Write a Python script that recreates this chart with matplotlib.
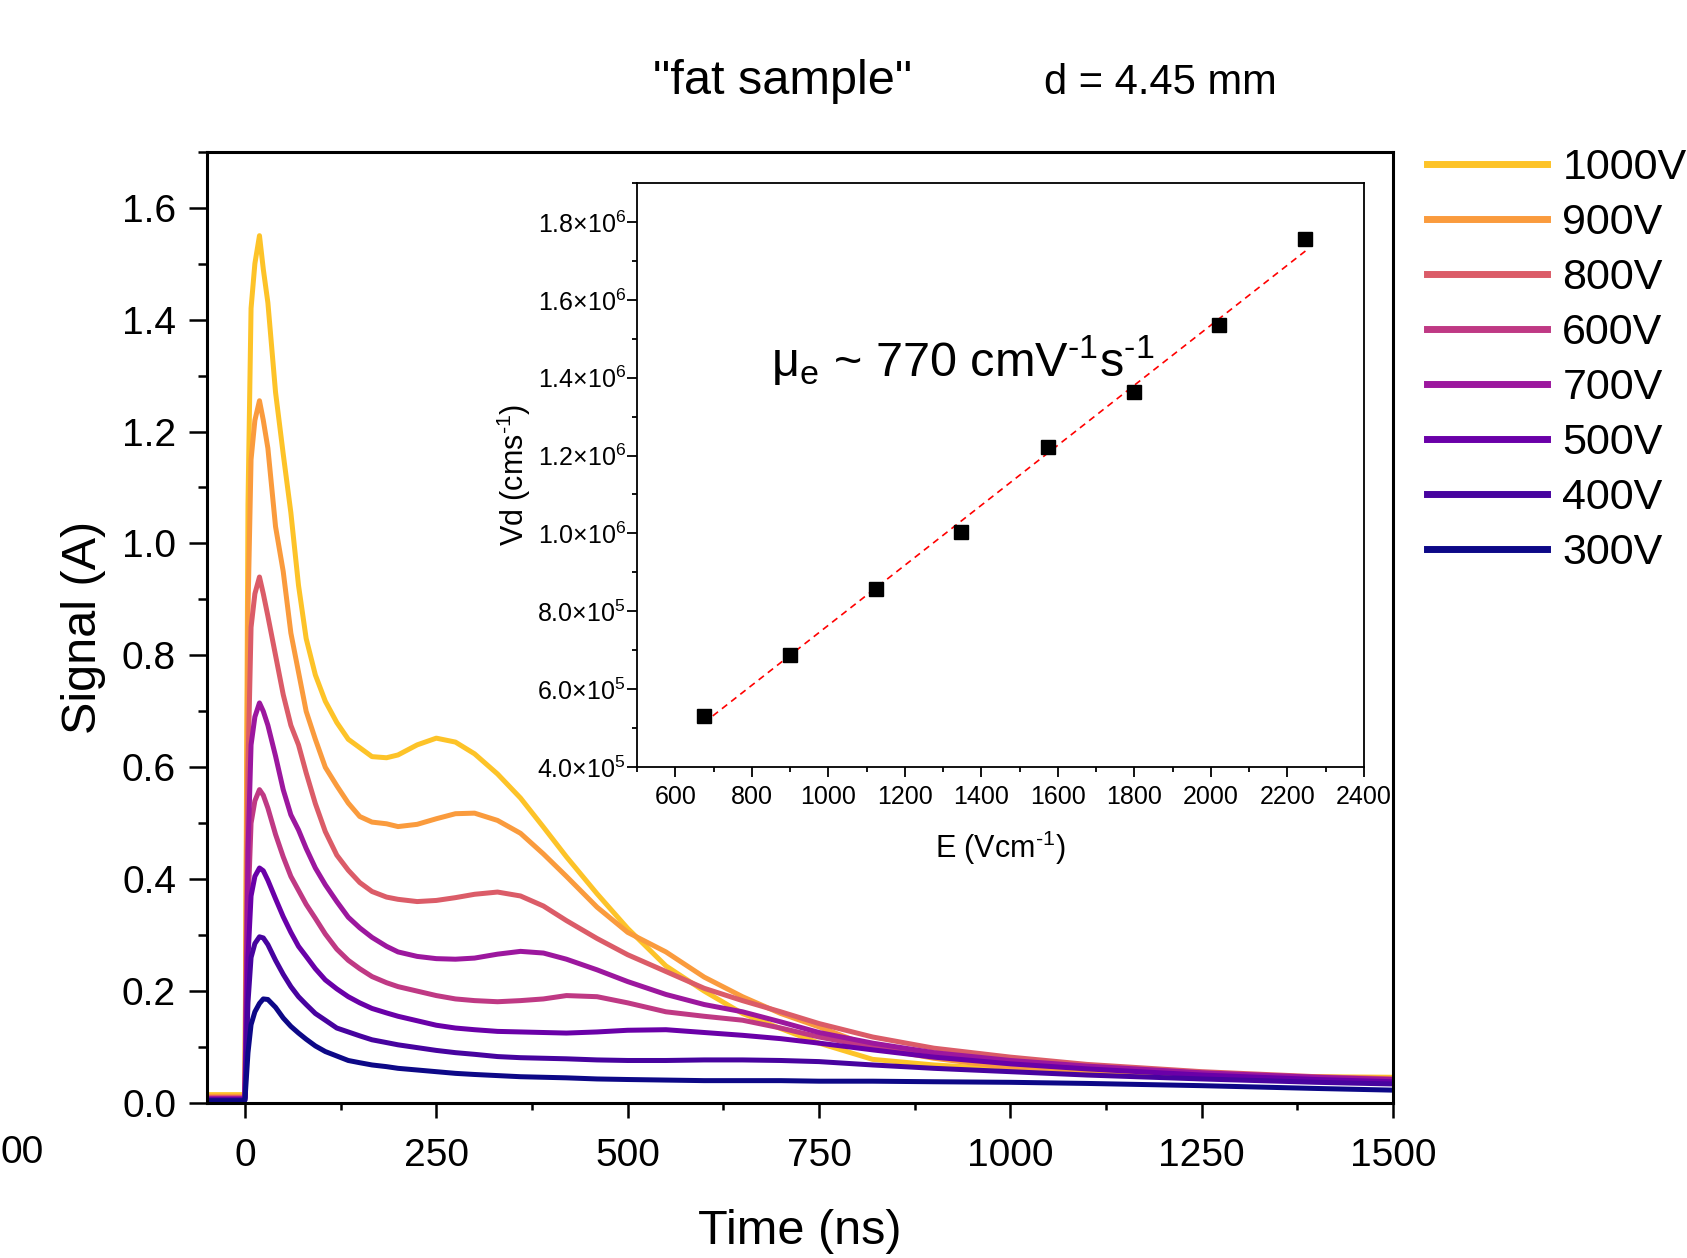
import numpy as np
import matplotlib
matplotlib.use('Agg')
import matplotlib.pyplot as plt
from matplotlib.ticker import MultipleLocator, FuncFormatter

plt.rcParams['font.family'] = ['Liberation Sans', 'DejaVu Sans']
plt.rcParams['mathtext.fontset'] = 'custom'
plt.rcParams['mathtext.rm'] = 'Liberation Sans'
plt.rcParams['mathtext.default'] = 'regular'

# ---- transient current traces ----
t_ns = [-50, -1, 0, 4, 8, 13, 19, 24, 30, 40, 50, 60, 70, 80, 92, 105, 120, 135, 150, 166,
        185, 200, 225, 250, 275, 300, 330, 360, 390, 420, 460, 500, 550, 600, 650, 700,
        750, 820, 900, 1000, 1100, 1250, 1400, 1500]

s1000 = [0.015, 0.015, 0.02, 1.07, 1.42, 1.50, 1.55, 1.49, 1.43, 1.27, 1.16, 1.055, 0.925, 0.83, 0.765,
         0.718, 0.68, 0.65, 0.635, 0.619, 0.617, 0.622, 0.64, 0.652, 0.645, 0.624, 0.588, 0.545, 0.493,
         0.44, 0.374, 0.312, 0.245, 0.20, 0.16, 0.133, 0.107, 0.078, 0.068, 0.060, 0.054, 0.05, 0.047, 0.046]
s900 = [0.012, 0.012, 0.015, 0.88, 1.15, 1.22, 1.255, 1.22, 1.17, 1.03, 0.95, 0.84, 0.77, 0.70, 0.65,
        0.60, 0.567, 0.536, 0.512, 0.502, 0.499, 0.494, 0.498, 0.508, 0.517, 0.518, 0.505, 0.482, 0.445,
        0.405, 0.35, 0.305, 0.27, 0.225, 0.19, 0.16, 0.136, 0.10, 0.08, 0.063, 0.056, 0.05, 0.046, 0.044]
s800 = [0.01, 0.01, 0.012, 0.6, 0.85, 0.91, 0.94, 0.91, 0.87, 0.80, 0.73, 0.675, 0.64, 0.59, 0.535,
        0.485, 0.443, 0.416, 0.394, 0.378, 0.368, 0.364, 0.36, 0.362, 0.367, 0.373, 0.377, 0.37, 0.352,
        0.326, 0.294, 0.265, 0.235, 0.205, 0.183, 0.163, 0.142, 0.118, 0.098, 0.082, 0.069, 0.056, 0.047, 0.043]
s700 = [0.008, 0.008, 0.01, 0.45, 0.64, 0.69, 0.715, 0.70, 0.675, 0.62, 0.56, 0.515, 0.488, 0.455, 0.42,
        0.39, 0.36, 0.332, 0.313, 0.296, 0.28, 0.27, 0.262, 0.258, 0.257, 0.259, 0.266, 0.271, 0.268,
        0.257, 0.238, 0.217, 0.194, 0.176, 0.163, 0.145, 0.126, 0.107, 0.09, 0.076, 0.066, 0.054, 0.046, 0.042]
s600 = [0.008, 0.008, 0.01, 0.35, 0.5, 0.54, 0.56, 0.55, 0.527, 0.48, 0.44, 0.405, 0.38, 0.355, 0.33,
        0.302, 0.275, 0.255, 0.24, 0.226, 0.215, 0.208, 0.2, 0.192, 0.186, 0.183, 0.181, 0.183, 0.186,
        0.192, 0.19, 0.179, 0.163, 0.155, 0.148, 0.134, 0.118, 0.10, 0.088, 0.073, 0.064, 0.053, 0.045, 0.041]
s500 = [0.006, 0.006, 0.008, 0.26, 0.37, 0.405, 0.42, 0.415, 0.398, 0.365, 0.333, 0.305, 0.28, 0.262, 0.24,
        0.22, 0.204, 0.19, 0.179, 0.169, 0.161, 0.155, 0.147, 0.139, 0.134, 0.131, 0.128, 0.127, 0.126,
        0.125, 0.127, 0.13, 0.131, 0.126, 0.121, 0.115, 0.107, 0.095, 0.082, 0.07, 0.061, 0.05, 0.042, 0.038]
s400 = [0.005, 0.005, 0.006, 0.18, 0.26, 0.285, 0.297, 0.295, 0.283, 0.255, 0.23, 0.208, 0.19, 0.176, 0.16,
        0.148, 0.134, 0.127, 0.12, 0.113, 0.108, 0.104, 0.099, 0.094, 0.09, 0.087, 0.083, 0.081, 0.08,
        0.079, 0.077, 0.076, 0.076, 0.077, 0.077, 0.076, 0.074, 0.068, 0.062, 0.056, 0.05, 0.043, 0.037, 0.034]
s300 = [0.004, 0.004, 0.005, 0.09, 0.14, 0.163, 0.178, 0.186, 0.185, 0.171, 0.152, 0.137, 0.125, 0.114, 0.102,
        0.092, 0.084, 0.076, 0.072, 0.068, 0.065, 0.062, 0.059, 0.056, 0.053, 0.051, 0.049, 0.047, 0.046,
        0.045, 0.043, 0.042, 0.041, 0.04, 0.04, 0.04, 0.039, 0.039, 0.038, 0.037, 0.035, 0.031, 0.026, 0.023]

labels = ['1000V', '900V', '800V', '600V', '700V', '500V', '400V', '300V']
traces = [s1000, s900, s800, s600, s700, s500, s400, s300]
colors = ['#FDC328', '#FA9B3D', '#DB5C68', '#BF3984', '#9C179E', '#6A00A8', '#47039F', '#0D0887']

# ---- drift velocity vs field (inset) ----
E_field = [674, 899, 1124, 1348, 1573, 1798, 2022, 2247]
v_drift = [5.30e5, 6.88e5, 8.57e5, 1.003e6, 1.222e6, 1.362e6, 1.536e6, 1.755e6]

fig = plt.figure(figsize=(16.87, 12.58), dpi=100)

# main panel
ax = fig.add_axes([0.1225, 0.1232, 0.7033, 0.7562])
for y, lab, c in zip(traces, labels, colors):
    ax.plot(t_ns, y, color=c, lw=3.6, label=lab)

ax.set_xlim(-50, 1500)
ax.set_ylim(0, 1.7)
ax.xaxis.set_major_locator(MultipleLocator(250))
ax.xaxis.set_minor_locator(MultipleLocator(125))
ax.yaxis.set_major_locator(MultipleLocator(0.2))
ax.yaxis.set_minor_locator(MultipleLocator(0.1))
ax.yaxis.set_major_formatter(FuncFormatter(lambda v, p: f'{v:.1f}'))
ax.tick_params(which='both', direction='out', width=1.8, labelsize=28, top=False, right=False)
ax.tick_params(axis='y', which='major', length=13, pad=9)
ax.tick_params(axis='y', which='minor', length=6.5)
ax.tick_params(axis='x', which='major', length=11, pad=14)
ax.tick_params(axis='x', which='minor', length=5)
for sp in ax.spines.values():
    sp.set_linewidth(2.2)

ax.set_xlabel('Time (ns)', fontsize=35)
ax.set_ylabel('Signal (A)', fontsize=35)
ax.xaxis.set_label_coords(0.5, -0.111)
ax.yaxis.set_label_coords(-0.085, 0.5)

leg = fig.legend(loc='upper left', bbox_to_anchor=(0.8457, 0.8825), frameon=False,
                 fontsize=31, handlelength=2.8, handletextpad=0.35, labelspacing=0.35,
                 borderpad=0, borderaxespad=0)
for h in leg.legend_handles:
    h.set_linewidth(5)

fig.text(783 / 1687, 1 - 94 / 1258, '"fat sample"', fontsize=35, ha='center', va='baseline')
fig.text(1160 / 1687, 1 - 94 / 1258, 'd = 4.45 mm', fontsize=30, ha='center', va='baseline')
fig.text(1 / 1687, 1 - 1153 / 1258, '00', fontsize=28, ha='left', va='center')

# inset
ins = fig.add_axes([0.3776, 0.3903, 0.4309, 0.4642])
ins.set_facecolor('white')
fit = np.polyfit(E_field, v_drift, 1)
e_line = np.array([E_field[0], E_field[-1]])
ins.plot(e_line, np.polyval(fit, e_line), color='red', lw=1.2, linestyle=(0, (4, 3)))
ins.plot(E_field, v_drift, 's', color='black', markersize=10)

ins.set_xlim(500, 2400)
ins.set_ylim(4e5, 1.9e6)
ins.xaxis.set_major_locator(MultipleLocator(200))
ins.xaxis.set_minor_locator(MultipleLocator(100))
ins.yaxis.set_major_locator(MultipleLocator(2e5))
ins.yaxis.set_minor_locator(MultipleLocator(1e5))


def sci_fmt(v, pos):
    e = int(np.floor(np.log10(v)))
    m = v / 10 ** e
    return f'{m:.1f}×10$^{{{e}}}$'


ins.yaxis.set_major_formatter(FuncFormatter(sci_fmt))
ins.tick_params(which='both', direction='out', width=1.3, labelsize=18, top=False, right=False)
ins.tick_params(which='major', length=7)
ins.tick_params(which='minor', length=3.5)
ins.tick_params(axis='y', which='major', pad=1)
ins.tick_params(axis='x', which='major', pad=6)
for sp in ins.spines.values():
    sp.set_linewidth(1.3)

ins.set_xlabel(r'E (Vcm$^{\text{-1}}$)', fontsize=22)
ins.set_ylabel(r'Vd (cms$^{\text{-1}}$)', fontsize=22)
ins.xaxis.set_label_coords(0.5, -0.106)
ins.yaxis.set_label_coords(-0.143, 0.5)
ins.text(0.185, 0.668, r'μ$_e$ ~ 770 cmV$^{\text{-1}}$s$^{\text{-1}}$', transform=ins.transAxes,
         fontsize=35, ha='left', va='baseline')

plt.savefig('out.png', dpi=100)
